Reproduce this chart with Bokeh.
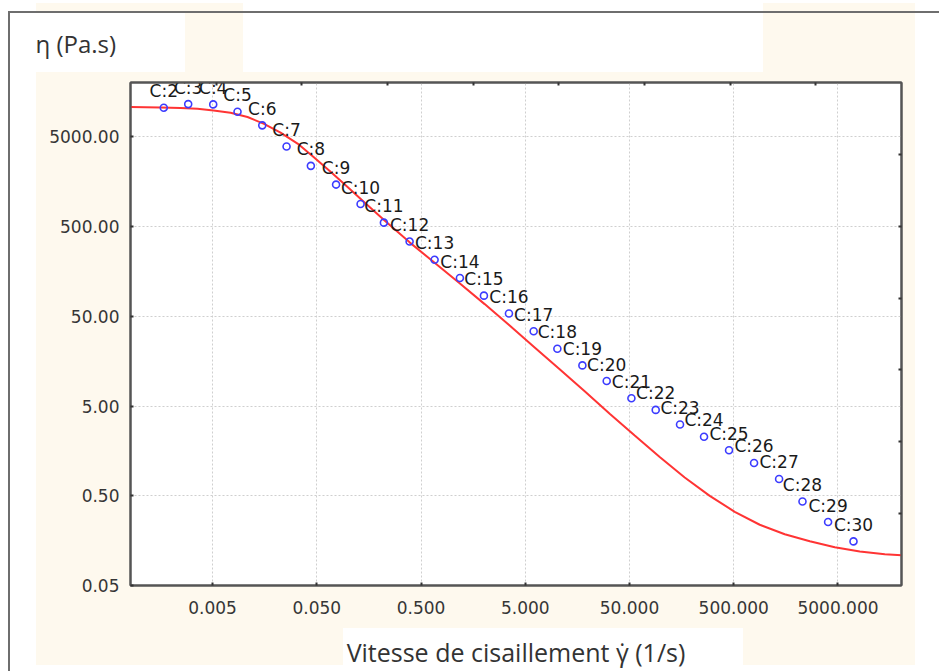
from bokeh.plotting import figure
from bokeh.models import (ColumnDataSource, FixedTicker, LinearAxis, Range1d,
                          LinearScale, NumeralTickFormatter, InlineStyleSheet)
from bokeh.embed import file_html
from bokeh.resources import INLINE
from bokeh.core.properties import value

# ---------------- data ----------------
shear_rate = [0.001704, 0.002922, 0.005078, 0.008687, 0.01500, 0.02566, 0.04389,
              0.07659, 0.1316, 0.2203, 0.3887, 0.6753, 1.181, 2.007, 3.488, 6.020,
              10.16, 17.66, 30.22, 52.15, 89.22, 152.6, 259.4, 450.7, 783.3, 1361,
              2282, 4018, 7043]
viscosity = [10546, 11561, 11474, 9522, 6707, 3893, 2371, 1467, 890.9, 552.5,
             340.0, 212.9, 133.4, 84.86, 53.58, 34.08, 21.74, 14.18, 9.497, 6.104,
             4.525, 3.116, 2.270, 1.608, 1.159, 0.7700, 0.4311, 0.2547, 0.1551]
case_labels = ["C:2", "C:3", "C:4", "C:5", "C:6", "C:7", "C:8", "C:9", "C:10",
               "C:11", "C:12", "C:13", "C:14", "C:15", "C:16", "C:17", "C:18",
               "C:19", "C:20", "C:21", "C:22", "C:23", "C:24", "C:25", "C:26",
               "C:27", "C:28", "C:29", "C:30"]

fit_rate = [0.000817, 0.001585, 0.002465, 0.003589, 0.005112, 0.007441, 0.01083,
            0.01543, 0.02247, 0.03270, 0.04660, 0.06783, 0.09877, 0.1438, 0.2237,
            0.3887, 0.6753, 1.173, 2.039, 3.542, 6.154, 10.69, 18.58, 32.28, 56.10,
            97.45, 169.3, 294.2, 511.1, 888.3, 1543, 2682, 4660, 8095, 14066, 20345]
fit_visc = [10765, 10626, 10437, 10280, 9842, 9282, 8296, 7005, 5567, 4202, 2984,
            2033, 1376, 925.7, 584.4, 333.1, 197.2, 116.8, 68.31, 39.43, 22.47,
            12.81, 7.299, 4.107, 2.341, 1.351, 0.8000, 0.4989, 0.3314, 0.2377,
            0.1865, 0.1559, 0.1337, 0.1198, 0.1118, 0.1085]

x_ticks = [0.005, 0.05, 0.5, 5, 50, 500, 5000]
x_tick_labels = ["0.005", "0.050", "0.500", "5.000", "50.000", "500.000", "5000.000"]
y_ticks = [0.05, 0.5, 5, 50, 500, 5000]
y_tick_labels = ["0.05", "0.50", "5.00", "50.00", "500.00", "5000.00"]

x_title = "Vitesse de cisaillement \u03b3\u0307 (1/s)"
y_title = "\u03b7 (Pa.s)"

# ---------------- figure ----------------
W, H = 939, 671
FL, FR, FT, FB = 130, 901, 82, 587   # frame edges in canvas pixels

p = figure(width=W, height=H, x_axis_type="log", y_axis_type="log",
           x_range=Range1d(0.000817, 20330), y_range=Range1d(0.05, 20130),
           output_backend="svg", toolbar_location=None,
           min_border_left=FL, min_border_right=W - FR,
           min_border_top=FT, min_border_bottom=H - FB)
p.background_fill_color = "white"
p.border_fill_color = None
p.outline_line_color = "#555555"
p.outline_line_width = 2

# page background decoration (screenshot margins), painted behind the canvas
BEIGE = "#fef9ee"
GREY = "#6e6e6e"


def rect(color, x, y, w, h):
    return f"linear-gradient({color},{color}) {x}px {y}px / {w}px {h}px no-repeat"


layers = [
    rect(GREY, 8, 11, 2, 700),          # outer border, left
    rect(GREY, 8, 11, 960, 2),          # outer border, top
    rect("#ffffff", 343, 628, 400, 60),  # patch behind x title
    rect(BEIGE, 36, 72, 879, 593),
    rect(BEIGE, 36, 3, 207, 9),
    rect(BEIGE, 185, 12, 58, 60),
    rect(BEIGE, 763, 3, 152, 69),
]
css = ":host { background: " + ", ".join(layers) + ", #ffffff; }"
p.stylesheets = [InlineStyleSheet(css=css)]

AX = "#555555"
TXT = "#363636"

xa = p.below[0]
xa.ticker = FixedTicker(ticks=x_ticks)
xa.formatter = NumeralTickFormatter(format="0.000")
xa.major_label_overrides = dict(zip(x_ticks, x_tick_labels))
ya = p.left[0]
ya.ticker = FixedTicker(ticks=y_ticks)
ya.formatter = NumeralTickFormatter(format="0.00")
ya.major_label_overrides = dict(zip(y_ticks, y_tick_labels))

for ax in (xa, ya):
    ax.axis_line_color = AX
    ax.axis_line_width = 2
    ax.major_tick_in = 3
    ax.major_tick_out = 0
    ax.major_tick_line_width = 2
    ax.major_tick_line_color = "#333333"
    ax.minor_tick_line_color = None
    ax.major_label_text_font = "DejaVu Sans"
    ax.major_label_text_font_size = "17px"
    ax.major_label_text_color = TXT
xa.major_label_standoff = 15
ya.major_label_standoff = 11

xa.axis_label = x_title
xa.axis_label_text_font = "Open Sans"
xa.axis_label_text_font_size = "25px"
xa.axis_label_text_font_style = "normal"
xa.axis_label_text_color = "#333333"
xa.axis_label_standoff = 18

p.title.text = y_title
p.title.align = "left"
p.title.offset = 35 - FL
p.title.text_font = "Open Sans"
p.title.text_font_size = "24px"
p.title.text_font_style = "normal"
p.title.text_color = "#333333"
p.title.standoff = 46

p.xgrid.grid_line_color = "#cfcfcf"
p.xgrid.grid_line_dash = "2 2"
p.ygrid.grid_line_color = "#cfcfcf"
p.ygrid.grid_line_dash = "2 2"

# mirrored frame axes (ticks only)
p.extra_x_ranges = {"top": Range1d(0, 9)}
p.extra_x_scales = {"top": LinearScale()}
p.extra_y_ranges = {"right": Range1d(0, 7)}
p.extra_y_scales = {"right": LinearScale()}
top_ax = LinearAxis(x_range_name="top", ticker=FixedTicker(ticks=[1, 2, 3, 4, 5, 6, 7, 8]))
right_ax = LinearAxis(y_range_name="right", ticker=FixedTicker(ticks=[1, 2, 3, 4, 5, 6]))
for ax in (top_ax, right_ax):
    ax.axis_line_color = AX
    ax.axis_line_width = 2
    ax.major_tick_in = 3
    ax.major_tick_out = 0
    ax.major_tick_line_width = 2
    ax.major_tick_line_color = "#333333"
    ax.minor_tick_line_color = None
    ax.major_label_text_color = None
    ax.major_label_text_font_size = "1px"
    ax.major_label_standoff = 0
p.add_layout(top_ax, "above")
p.add_layout(right_ax, "right")

# ---------------- data glyphs ----------------
p.line(fit_rate, fit_visc, line_color="#ff3434", line_width=2)

src = ColumnDataSource(dict(x=shear_rate, y=viscosity, label=case_labels))
p.scatter("x", "y", source=src, marker="circle", size=7, fill_color=None,
          line_color="#3c3cff", line_width=1.6)
p.text("x", "y", text="label", source=src, text_align="center",
       text_baseline="middle", y_offset=-16.5, text_font=value("DejaVu Sans"),
       text_font_size="17px", text_color="#1a1a1a")

open("out.html", "w").write(file_html(p, INLINE))
